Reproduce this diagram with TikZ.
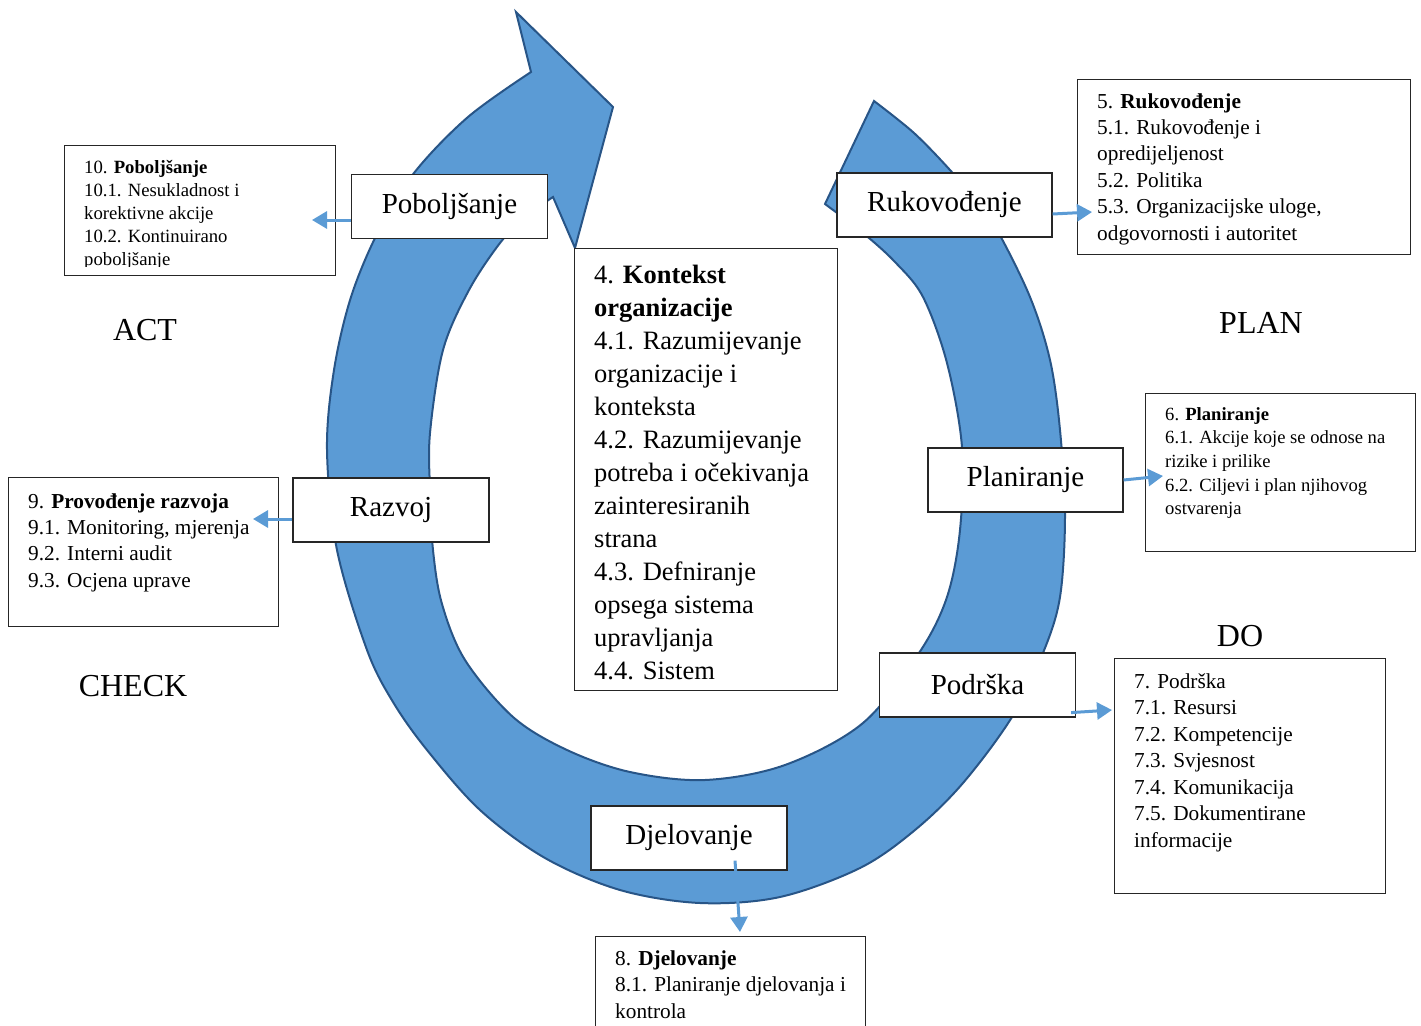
\documentclass[tikz,border=0pt]{standalone}
\usepackage{fontspec}
\setmainfont{Liberation Serif}
\usetikzlibrary{arrows.meta}
\definecolor{ringfill}{RGB}{91,155,213}
\definecolor{ringline}{RGB}{40,85,135}
\definecolor{conncol}{RGB}{91,155,213}
\begin{document}
\begin{tikzpicture}[x=1pt,y=-1pt,
  frame/.style={draw=black!85, line width=1.2pt, fill=white, inner sep=0pt, anchor=north west},
  tag/.style={draw=black!85, line width=1.2pt, fill=white, inner sep=0pt, anchor=center, font=\fontsize{29}{34}\selectfont},
  listtxt/.style={anchor=north west, inner sep=0pt, align=left},
  phase/.style={anchor=base, inner sep=0pt, font=\fontsize{32}{38}\selectfont},
  conn/.style={draw=conncol, line width=3pt, -{Triangle[length=15pt,width=17pt]}},
  ring/.style={fill=ringfill, draw=ringline, line width=2pt, line join=miter}]
\useasboundingbox (0,0) rectangle (1421,1025);
\clip (0,0) rectangle (1421,1025);

% circular arrow
\path[ring] plot[smooth, tension=0.55] coordinates {(874,101) (914,133) (950,170) (975,200) (997,230) (1030,297) (1050,360) (1060,430) (1065,515) (1060,597) (1043,653) (1012,717) (963,783) (915,830) (860,868) (780,897) (700,903) (620,890) (545,858) (480,810) (427,750) (393,702) (367,650) (337,550) (327,450) (334,370) (351,297) (378,232) (414,173) (468,117) (531,72)}
 -- (516,12) -- (613,107) -- (575,248) -- (553,197)
 -- plot[smooth, tension=0.55] coordinates {(553,197) (525,217) (500,243) (469,290) (443,350) (430,433) (430,490) (433,550) (442,604) (465,660) (513,717) (567,750) (630,772) (705,780) (785,765) (863,723) (919,653) (947,597) (960,530) (962,447) (947,363) (923,297) (895,262) (863,233) (825,204)}
 -- cycle;

% big list boxes
\node[frame, minimum width=271pt, minimum height=130pt] (b10) at (64,145) {};
\begin{scope}
\clip (64,145) rectangle (335,266.5);
\node[listtxt, font=\fontsize{18.7}{23}\selectfont] (t10) at (84,156.9)
 {\strut 10. \textbf{Poboljšanje}\\10.1. Nesukladnost i\\korektivne akcije\\10.2. Kontinuirano\\poboljšanje};
\end{scope}

\node[frame, minimum width=333pt, minimum height=175pt] (b5) at (1077,79) {};
\node[listtxt, font=\fontsize{21.3}{26.4}\selectfont] (t5) at (1097,89.5)
 {\strut 5. \textbf{Rukovođenje}\\5.1. Rukovođenje i\\opredijeljenost\\5.2. Politika\\5.3. Organizacijske uloge,\\odgovornosti i autoritet};

\node[frame, minimum width=263pt, minimum height=442pt] (b4) at (574,248) {};
\node[listtxt, font=\fontsize{26.5}{33}\selectfont] (t4) at (594,259.9)
 {\strut 4. \textbf{Kontekst}\\\textbf{organizacije}\\4.1. Razumijevanje\\organizacije i\\konteksta\\4.2. Razumijevanje\\potreba i očekivanja\\zainteresiranih\\strana\\4.3. Defniranje\\opsega sistema\\upravljanja\\4.4. Sistem};

\node[frame, minimum width=270pt, minimum height=158pt] (b6) at (1145,393) {};
\node[listtxt, font=\fontsize{18.6}{23.7}\selectfont] (t6) at (1165,403.4)
 {\strut 6. \textbf{Planiranje}\\6.1. Akcije koje se odnose na\\rizike i prilike\\6.2. Ciljevi i plan njihovog\\ostvarenja};

\node[frame, minimum width=270pt, minimum height=149pt] (b9) at (8,477) {};
\node[listtxt, font=\fontsize{21.3}{26.4}\selectfont] (t9) at (28,489.5)
 {\strut 9. \textbf{Provođenje razvoja}\\9.1. Monitoring, mjerenja\\9.2. Interni audit\\9.3. Ocjena uprave};

\node[frame, minimum width=271pt, minimum height=235pt] (b7) at (1114,658) {};
\node[listtxt, font=\fontsize{21.3}{26.5}\selectfont] (t7) at (1134,669.5)
 {\strut 7. Podrška\\7.1. Resursi\\7.2. Kompetencije\\7.3. Svjesnost\\7.4. Komunikacija\\7.5. Dokumentirane\\informacije};

\node[frame, minimum width=270pt, minimum height=130pt] (b8) at (595,936) {};
\node[listtxt, font=\fontsize{21.3}{26.5}\selectfont] (t8) at (615,946.5)
 {\strut 8. \textbf{Djelovanje}\\8.1. Planiranje djelovanja i\\kontrola};

% tag boxes on the ring
\node[tag, minimum width=196pt, minimum height=64pt] (pob) at (449.5,206.5) {Poboljšanje};
\node[tag, minimum width=215pt, minimum height=64pt] (ruk) at (944.5,205) {Rukovođenje};
\node[tag, minimum width=195pt, minimum height=64pt] (plan) at (1025.5,480) {Planiranje};
\node[tag, minimum width=196pt, minimum height=64pt] (raz) at (391,510) {Razvoj};
\node[tag, minimum width=196pt, minimum height=64pt] (pod) at (977.5,685) {Podrška};
\node[tag, minimum width=196pt, minimum height=64pt] (dj) at (689,838) {Djelovanje};

% phase labels
\node[phase] (act) at (145,340.5) {ACT};
\node[phase] (planl) at (1261,333) {PLAN};
\node[phase] (dol) at (1240,646) {DO};
\node[phase] (chk) at (133,696) {CHECK};

% connectors
\coordinate (p10) at (312,220);
\coordinate (p5) at (1092,212);
\coordinate (p6) at (1163,476);
\coordinate (p9) at (253,519);
\coordinate (p7) at (1112,710);
\coordinate (p8) at (740,932);
\draw[conn] (pob.west |- p10) -- (p10);
\draw[conn] ([yshift=-9pt]ruk.east) -- (p5);
\draw[conn] (plan.east) -- (p6);
\draw[conn] ([yshift=-9pt]raz.west) -- (p9);
\draw[conn] ([xshift=-5pt,yshift=5pt]pod.south east) -- (p7);
\draw[conn] ([xshift=46pt,yshift=10pt]dj.south) -- (p8);
\end{tikzpicture}
\end{document}
